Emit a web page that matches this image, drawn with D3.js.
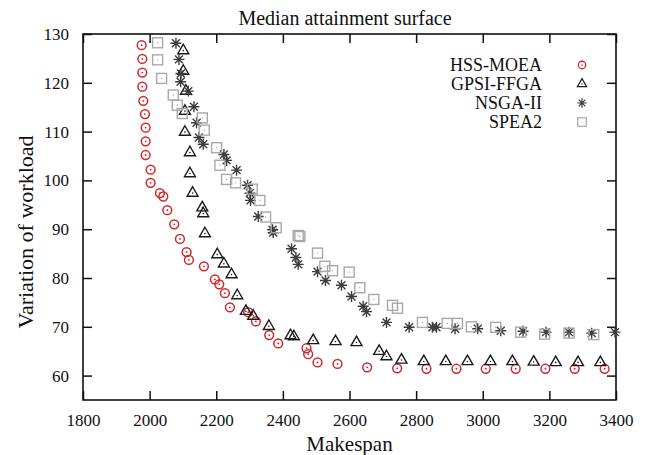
<!DOCTYPE html>
<html>
<head>
<meta charset="utf-8">
<script src="https://cdn.jsdelivr.net/npm/d3@7"></script>
<style>
  body { margin: 0; background: #fff; }
</style>
</head>
<body>
<div id="chart"></div>
<script>
// values: [makespan, variation of workload]
var hssMoea = [
  [1976,127.7],[1978,124.9],[1978,122.1],[1978,119.2],[1981,116.3],[1986,113.6],
  [1988,110.8],[1988,108.0],[1988,105.2],[2003,102.2],[2003,99.5],[2031,97.4],
  [2041,96.7],[2053,93.9],[2074,91.0],[2091,88.0],[2111,85.3],[2118,83.7],
  [2163,82.4],[2196,79.7],[2209,78.7],[2226,76.9],[2241,74.0],[2296,73.0],
  [2319,71.1],[2359,68.3],[2386,66.6],[2471,65.6],[2476,64.4],[2504,62.7],
  [2564,62.4],[2653,61.7],[2743,61.5],[2831,61.4],[2921,61.4],[3009,61.4],
  [3099,61.4],[3188,61.4],[3276,61.4],[3366,61.4]
];
var gpsiFfga = [
  [2101,126.6],[2101,122.4],[2109,118.3],[2106,114.2],[2106,109.9],[2121,105.7],
  [2121,101.4],[2129,97.4],[2158,94.4],[2161,93.2],[2166,89.1],[2203,84.8],
  [2223,82.9],[2246,80.7],[2263,76.4],[2289,73.2],[2311,72.2],[2358,70.1],
  [2423,68.2],[2433,68.0],[2491,67.2],[2558,67.0],[2621,66.8],[2689,65.0],
  [2711,63.9],[2756,63.2],[2823,62.9],[2889,62.9],[2954,62.9],[3023,62.9],
  [3089,62.9],[3153,62.8],[3219,62.7],[3286,62.7],[3353,62.7]
];
var nsga2 = [
  [2079,128.1],[2088,124.8],[2094,121.9],[2093,120.2],[2116,118.3],[2133,115.1],
  [2141,111.8],[2148,108.8],[2161,107.4],[2223,105.3],[2231,104.1],[2261,102.1],
  [2294,99.0],[2301,97.4],[2303,95.9],[2326,92.6],[2369,89.9],[2371,89.3],
  [2426,86.0],[2439,84.2],[2446,82.8],[2504,81.3],[2528,79.5],[2576,78.5],
  [2606,76.2],[2641,74.2],[2651,73.1],[2711,70.9],[2779,69.9],[2849,69.9],
  [2861,69.9],[2917,69.6],[2985,69.6],[3054,69.2],[3121,69.1],[3190,68.9],
  [3259,68.9],[3327,68.7],[3397,68.9]
];
var spea2 = [
  [2024,128.2],[2024,124.7],[2036,120.9],[2071,117.5],[2083,115.4],[2098,113.7],
  [2158,112.8],[2164,110.3],[2201,106.7],[2211,103.1],[2231,100.2],[2258,99.5],
  [2308,98.2],[2331,95.9],[2348,92.5],[2380,90.3],[2446,88.7],[2451,88.5],
  [2504,85.1],[2526,82.4],[2549,81.5],[2599,81.2],[2631,78.0],[2673,75.6],
  [2729,74.4],[2744,73.8],[2819,70.9],[2893,70.7],[2924,70.7],[2966,70.0],
  [3039,69.9],[3114,68.9],[3186,68.5],[3259,68.7],[3333,68.4]
];
var seriesNames = ["HSS-MOEA", "GPSI-FFGA", "NSGA-II", "SPEA2"];
var xTicks = [1800, 2000, 2200, 2400, 2600, 2800, 3000, 3200, 3400];
var yTicks = [60, 70, 80, 90, 100, 110, 120, 130];

var serif = "'Liberation Serif', 'Times New Roman', Times, 'DejaVu Serif', serif";

var width = 647, height = 455;
var margin = {top: 34, right: 31, bottom: 55, left: 83};
var w = width - margin.left - margin.right,
    h = height - margin.top - margin.bottom;

var svg = d3.select("#chart").append("svg")
  .attr("width", width)
  .attr("height", height)
  .attr("font-family", serif);

var g = svg.append("g")
  .attr("transform", "translate(" + margin.left + "," + margin.top + ")");

var x = d3.scaleLinear().domain([1800, 3400]).range([0, w]);
var y = d3.scaleLinear().domain([55, 130]).range([h, 0]);

// axes, ticks pointing inwards
var tick = 9;
g.append("g")
  .attr("transform", "translate(0," + h + ")")
  .call(d3.axisBottom(x).tickValues(xTicks).tickSizeInner(-tick).tickSizeOuter(0).tickPadding(14).tickFormat(d3.format("d")));
g.append("g")
  .call(d3.axisTop(x).tickValues(xTicks).tickSizeInner(-tick).tickSizeOuter(0).tickFormat(""));
g.append("g")
  .call(d3.axisLeft(y).tickValues(yTicks).tickSizeInner(-tick).tickSizeOuter(0).tickPadding(14));
g.append("g")
  .attr("transform", "translate(" + w + ",0)")
  .call(d3.axisRight(y).tickValues(yTicks).tickSizeInner(-tick).tickSizeOuter(0).tickFormat(""));

g.selectAll(".domain").remove();
g.selectAll("g").attr("font-family", serif);
g.selectAll(".tick line").attr("stroke", "#111").attr("stroke-width", 1.5);
g.selectAll(".tick text").attr("font-size", 17).attr("fill", "#111")
  .attr("font-family", serif);

g.append("rect")
  .attr("width", w).attr("height", h)
  .attr("fill", "none").attr("stroke", "#111").attr("stroke-width", 1.6);

// markers
function circleMark(sel) {
  sel.append("circle").attr("r", 4.4).attr("fill", "none").attr("stroke", "#d0282c").attr("stroke-width", 1.5);
  sel.append("circle").attr("r", 0.9).attr("fill", "#d0282c");
}
function triMark(sel) {
  sel.append("path").attr("d", d3.symbol(d3.symbolTriangle, 52)())
    .attr("fill", "none").attr("stroke", "#1a1a1a").attr("stroke-width", 1.4);
  sel.append("circle").attr("r", 0.8).attr("fill", "#1a1a1a");
}
function starMark(sel) {
  var r = 5.5, d = r * 0.72;
  sel.append("path")
    .attr("d", "M" + (-r) + ",0H" + r + "M0," + (-r) + "V" + r +
               "M" + (-d) + "," + (-d) + "L" + d + "," + d +
               "M" + (-d) + "," + d + "L" + d + "," + (-d))
    .attr("stroke", "#3c3c3c").attr("stroke-width", 1.4).attr("fill", "none");
}
function squareMark(sel) {
  sel.append("rect").attr("x", -5).attr("y", -5).attr("width", 10).attr("height", 10)
    .attr("fill", "none").attr("stroke", "#a8a8a8").attr("stroke-width", 1.4);
  sel.append("circle").attr("r", 0.7).attr("fill", "#a8a8a8");
}

var series = [
  {data: hssMoea, mark: circleMark},
  {data: gpsiFfga, mark: triMark},
  {data: nsga2, mark: starMark},
  {data: spea2, mark: squareMark}
];

series.forEach(function(s) {
  g.append("g").selectAll("g")
    .data(s.data)
    .enter().append("g")
    .attr("transform", function(d) { return "translate(" + x(d[0]) + "," + y(d[1]) + ")"; })
    .each(function() { s.mark(d3.select(this)); });
});

// legend
var legend = g.append("g").attr("transform", "translate(" + (w - 34) + ",31)");
seriesNames.forEach(function(name, i) {
  var row = legend.append("g").attr("transform", "translate(0," + (i * 19) + ")");
  row.append("text")
    .attr("x", -40).attr("y", 6)
    .attr("text-anchor", "end")
    .attr("font-size", 18)
    .attr("fill", "#111")
    .text(name);
  var m = row.append("g").attr("transform", "scale(0.85)");
  series[i].mark(m);
});

// titles
svg.append("text")
  .attr("x", 345).attr("y", 25)
  .attr("text-anchor", "middle")
  .attr("font-size", 20)
  .attr("fill", "#111")
  .text("Median attainment surface");

svg.append("text")
  .attr("x", margin.left + w / 2).attr("y", 451)
  .attr("text-anchor", "middle")
  .attr("font-size", 21)
  .attr("fill", "#111")
  .text("Makespan");

svg.append("text")
  .attr("transform", "translate(33,232) rotate(-90)")
  .attr("text-anchor", "middle")
  .attr("font-size", 22)
  .attr("fill", "#111")
  .text("Variation of workload");
</script>
</body>
</html>
